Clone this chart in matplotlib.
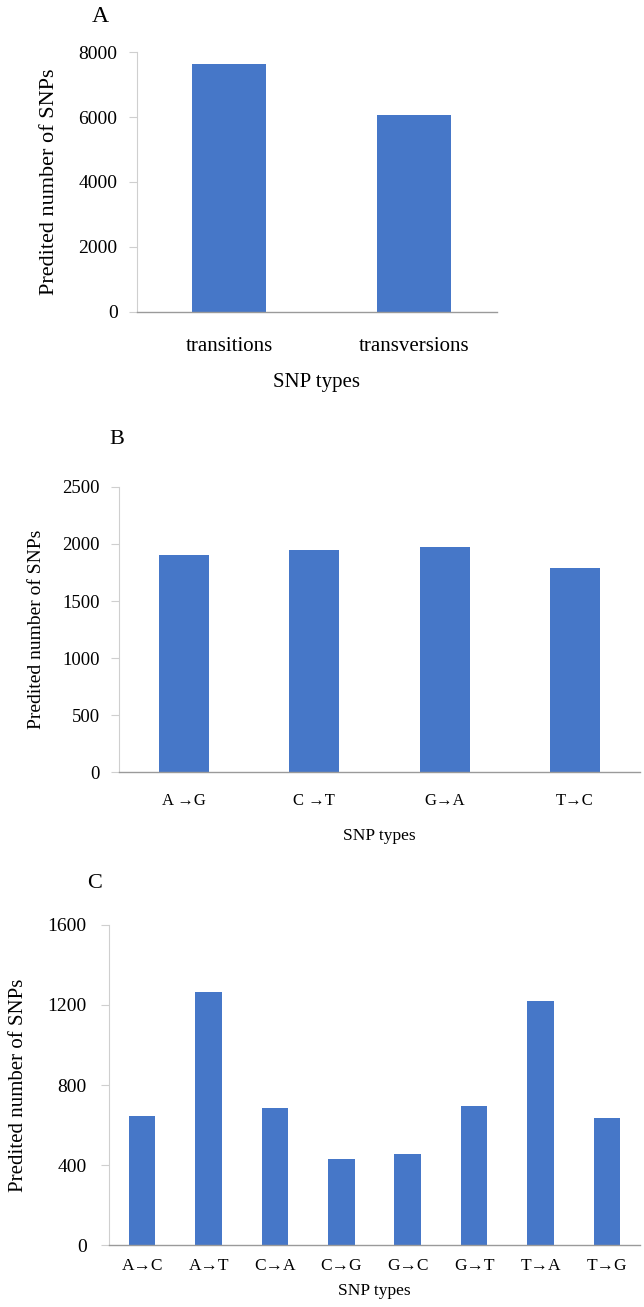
import matplotlib
matplotlib.use("Agg")
import matplotlib.pyplot as plt

plt.rcParams['font.family'] = ['Liberation Serif', 'DejaVu Serif']

# panel A: transitions vs transversions
types_a = ["transitions", "transversions"]
counts_a = [7620, 6060]

# panel B: transition subtypes
types_b = ["A \u2192G", "C \u2192T", "G\u2192A", "T\u2192C"]
counts_b = [1900, 1945, 1975, 1790]

# panel C: transversion subtypes
types_c = ["A\u2192C", "A\u2192T", "C\u2192A", "C\u2192G",
           "G\u2192C", "G\u2192T", "T\u2192A", "T\u2192G"]
counts_c = [645, 1265, 685, 430, 455, 695, 1220, 635]

bar_color = '#4677C8'

fig = plt.figure(figsize=(6.44, 13.07), dpi=100)


def style_axis(ax, ylim, yticks, tick_size, cat_size, cat_pad, ypad):
    ax.set_ylim(*ylim)
    ax.set_yticks(yticks)
    for side in ['top', 'right']:
        ax.spines[side].set_visible(False)
    ax.spines['left'].set_color('#CFCFCF')
    ax.spines['bottom'].set_color('#9A9A9A')
    ax.spines['bottom'].set_linewidth(1.0)
    ax.tick_params(axis='y', length=6, color='#CFCFCF', labelsize=tick_size, pad=ypad)
    ax.tick_params(axis='x', length=0, labelsize=cat_size, pad=cat_pad)


# ---- A ----
ax_a = fig.add_axes([0.2127, 0.7613, 0.559, 0.1989])
ax_a.bar(range(len(types_a)), counts_a, width=0.4, color=bar_color)
ax_a.set_xlim(-0.5, 1.45)
ax_a.set_xticks(range(len(types_a)))
ax_a.set_xticklabels(types_a)
style_axis(ax_a, (0, 8000), [0, 2000, 4000, 6000, 8000], 14, 15, 18, 8)
ax_a.set_ylabel("Predited number of SNPs", fontsize=16, labelpad=14)
ax_a.set_xlabel("SNP types", fontsize=15, labelpad=12)
fig.text(100 / 644, 1 - 16 / 1307, "A", fontsize=17, ha='center', va='center')

# ---- B ----
ax_b = fig.add_axes([0.1848, 0.4093, 0.809, 0.2181])
ax_b.bar(range(len(types_b)), counts_b, width=0.385, color=bar_color)
ax_b.set_xlim(-0.5, 3.5)
ax_b.set_xticks(range(len(types_b)))
ax_b.set_xticklabels(types_b)
style_axis(ax_b, (0, 2500), [0, 500, 1000, 1500, 2000, 2500], 13.5, 12, 15, 8)
ax_b.set_ylabel("Predited number of SNPs", fontsize=14, labelpad=12)
ax_b.set_xlabel("SNP types", fontsize=12.5, labelpad=14)
fig.text(117 / 644, 1 - 440 / 1307, "B", fontsize=16, ha='center', va='center')

# ---- C ----
ax_c = fig.add_axes([0.1693, 0.0474, 0.8245, 0.2449])
ax_c.bar(range(len(types_c)), counts_c, width=0.4, color=bar_color)
ax_c.set_xlim(-0.5, 7.5)
ax_c.set_xticks(range(len(types_c)))
ax_c.set_xticklabels(types_c)
style_axis(ax_c, (0, 1600), [0, 400, 800, 1200, 1600], 14, 12.5, 9, 10)
ax_c.set_ylabel("Predited number of SNPs", fontsize=15, labelpad=14)
ax_c.set_xlabel("SNP types", fontsize=12.5, labelpad=7)
fig.text(95 / 644, 1 - 884 / 1307, "C", fontsize=16, ha='center', va='center')

fig.savefig("out.png", dpi=100)
